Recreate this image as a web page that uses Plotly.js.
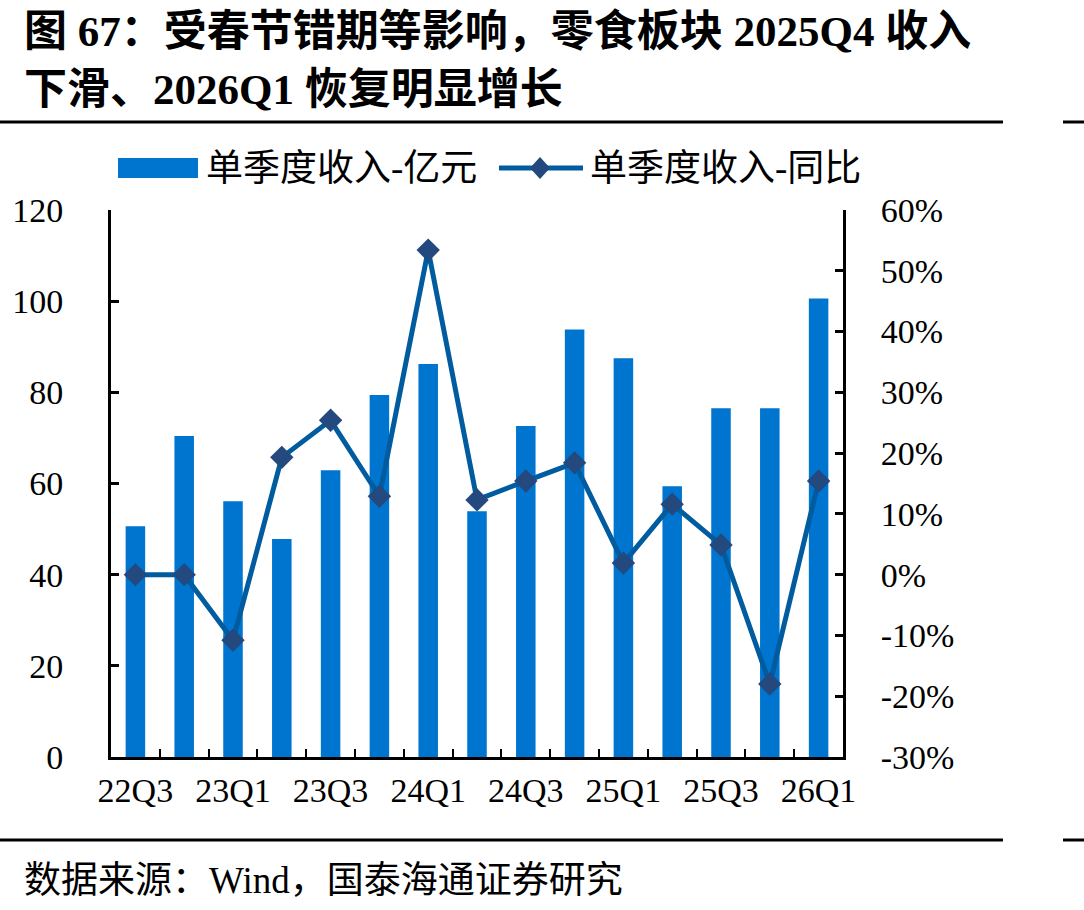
<!DOCTYPE html>
<html>
<head>
<meta charset="utf-8">
<script src="https://cdn.plot.ly/plotly-3.0.1.min.js"></script>
<style>
html,body{margin:0;padding:0;background:#fff;}
#chart{width:1084px;height:910px;}
</style>
</head>
<body>
<div id="chart"></div>
<script>
// ---- data ----
const quarters = ["22Q3","22Q4","23Q1","23Q2","23Q3","23Q4","24Q1","24Q2","24Q3","24Q4","25Q1","25Q2","25Q3","25Q4","26Q1"];
const tickLabels = ["22Q3","","23Q1","","23Q3","","24Q1","","24Q3","","25Q1","","25Q3","","26Q1"];
const revenue = [50.6, 70.4, 56.1, 47.8, 62.9, 79.4, 86.2, 53.9, 72.6, 93.8, 87.5, 59.4, 76.5, 76.5, 100.6];
const yoy = [0.0, 0.0, -0.108, 0.193, 0.254, 0.129, 0.534, 0.123, 0.154, 0.184, 0.019, 0.116, 0.049, -0.180, 0.154];
const seriesNames = ["单季度收入-亿元", "单季度收入-同比"];
const y2TickVals = [-0.3, -0.2, -0.1, 0, 0.1, 0.2, 0.3, 0.4, 0.5, 0.6];
const y2TickText = ["-30%", "-20%", "-10%", "0%", "10%", "20%", "30%", "40%", "50%", "60%"];

// ---- layout helpers (plot area px) ----
const L = 111, R = 843, T = 210, B = 757;
const X = px => (px - L) / (R - L);
const Y = py => (B - py) / (B - T);

const serif = "Liberation Serif, Times New Roman, Noto Sans CJK SC, serif";
const cjk = "Liberation Serif, Noto Sans CJK SC, sans-serif";
const barColor = "#0075CF";
const lineColor = "#005C9F";
const markColor = "#23497E";

const traces = [
  {
    type: "bar", x: quarters, y: revenue, name: seriesNames[0],
    marker: {color: barColor, line: {width: 0}}, yaxis: "y", hoverinfo: "x+y"
  },
  {
    type: "scatter", mode: "lines+markers", x: quarters, y: yoy, name: seriesNames[1],
    yaxis: "y2", cliponaxis: false,
    line: {color: lineColor, width: 5},
    marker: {symbol: "diamond", size: 18, color: markColor, line: {width: 0}}
  }
];

const shapes = [
  // rules
  {type: "line", xref: "paper", yref: "paper", x0: X(0), x1: X(1003), y0: Y(122), y1: Y(122), line: {color: "#000", width: 3}},
  {type: "line", xref: "paper", yref: "paper", x0: X(1063), x1: X(1084), y0: Y(122), y1: Y(122), line: {color: "#000", width: 3}},
  {type: "line", xref: "paper", yref: "paper", x0: X(0), x1: X(1003), y0: Y(840), y1: Y(840), line: {color: "#000", width: 3}},
  {type: "line", xref: "paper", yref: "paper", x0: X(1063), x1: X(1084), y0: Y(840), y1: Y(840), line: {color: "#000", width: 3}},
  // legend: bar swatch
  {type: "rect", xref: "paper", yref: "paper", x0: X(118), x1: X(198), y0: Y(158), y1: Y(178), fillcolor: barColor, line: {width: 0}},
  // legend: line
  {type: "line", xref: "paper", yref: "paper", x0: X(499), x1: X(583), y0: Y(168), y1: Y(168), line: {color: lineColor, width: 5}},
  // legend: diamond
  {type: "path", xref: "paper", yref: "paper",
   path: `M ${X(540)} ${Y(157)} L ${X(550)} ${Y(168)} L ${X(540)} ${Y(179)} L ${X(530)} ${Y(168)} Z`,
   fillcolor: markColor, line: {width: 0}}
];

const annotations = [
  {xref: "paper", yref: "paper", x: X(22), y: Y(31), xanchor: "left", yanchor: "middle", showarrow: false,
   text: "<b>图 67：受春节错期等影响，零食板块 2025Q4 收入</b>", font: {family: cjk, size: 43, color: "#000"}},
  {xref: "paper", yref: "paper", x: X(22), y: Y(90), xanchor: "left", yanchor: "middle", showarrow: false,
   text: "<b>下滑、2026Q1 恢复明显增长</b>", font: {family: cjk, size: 43, color: "#000"}},
  {xref: "paper", yref: "paper", x: X(204), y: Y(168), xanchor: "left", yanchor: "middle", showarrow: false,
   text: seriesNames[0], font: {family: cjk, size: 37, color: "#000"}},
  {xref: "paper", yref: "paper", x: X(588), y: Y(168), xanchor: "left", yanchor: "middle", showarrow: false,
   text: seriesNames[1], font: {family: cjk, size: 37, color: "#000"}},
  {xref: "paper", yref: "paper", x: X(22), y: Y(880), xanchor: "left", yanchor: "middle", showarrow: false,
   text: "数据来源：Wind，国泰海通证券研究", font: {family: cjk, size: 37, color: "#000"}}
];

const layout = {
  width: 1084, height: 910,
  margin: {l: L, r: 1084 - R, t: T, b: 910 - B, pad: 0},
  paper_bgcolor: "#fff", plot_bgcolor: "#fff",
  showlegend: false,
  bargap: 0.6,
  font: {family: serif, color: "#000"},
  xaxis: {
    type: "category", range: [-0.5, 14.5], autorange: false,
    tickmode: "array", tickvals: quarters, ticktext: tickLabels, tickangle: 0,
    tickson: "boundaries", ticks: "inside", ticklen: 8, tickwidth: 2, tickcolor: "#000",
    showline: true, linecolor: "#000", linewidth: 3,
    showgrid: false, zeroline: false,
    tickfont: {family: serif, size: 34, color: "#000"},
    ticklabelstandoff: 1
  },
  yaxis: {
    range: [0, 120], autorange: false, tickmode: "linear", tick0: 0, dtick: 20,
    ticks: "inside", ticklen: 8, tickwidth: 3, tickcolor: "#000",
    showline: true, linecolor: "#000", linewidth: 3,
    showgrid: false, zeroline: false,
    tickfont: {family: serif, size: 34, color: "#000"},
    ticklabelstandoff: 38
  },
  yaxis2: {
    overlaying: "y", side: "right",
    range: [-0.3, 0.6], autorange: false, tickmode: "array", tickvals: y2TickVals, ticktext: y2TickText,
    ticks: "inside", ticklen: 8, tickwidth: 3, tickcolor: "#000",
    showline: true, linecolor: "#000", linewidth: 3,
    showgrid: false, zeroline: false,
    tickfont: {family: serif, size: 34, color: "#000"},
    ticklabelstandoff: 28
  },
  shapes: shapes,
  annotations: annotations
};

Plotly.newPlot("chart", traces, layout, {displayModeBar: false, staticPlot: true});
</script>
</body>
</html>
